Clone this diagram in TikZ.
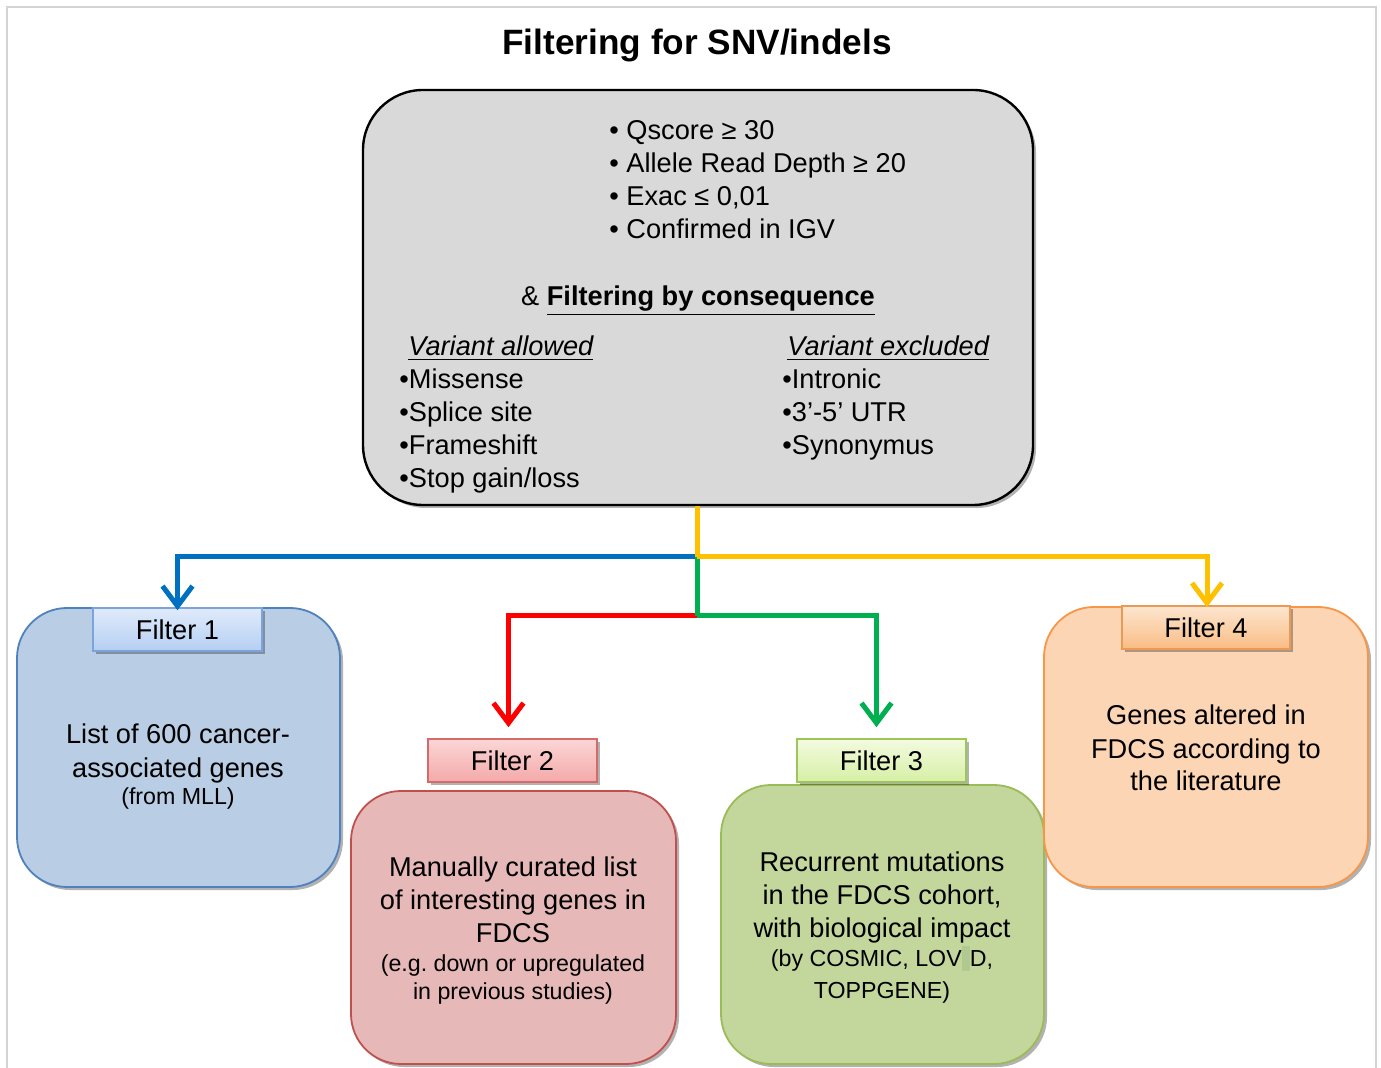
\documentclass[tikz,border=0pt]{standalone}
\usepackage{fontspec}
\setmainfont{Liberation Sans}
\usetikzlibrary{arrows.meta,shadows}
\frenchspacing
\definecolor{framegray}{HTML}{D4D4D4}
\definecolor{maingray}{HTML}{D9D9D9}
\definecolor{bfill}{HTML}{B9CDE5}\definecolor{bline}{HTML}{4F81BD}
\definecolor{rfill}{HTML}{E6B9B8}\definecolor{rline}{HTML}{C0504D}
\definecolor{gfill}{HTML}{C3D69B}\definecolor{gline}{HTML}{9BBB59}
\definecolor{ofill}{HTML}{FCD5B5}\definecolor{oline}{HTML}{F79646}
\definecolor{arrblue}{HTML}{0070C0}\definecolor{arrred}{HTML}{FF0000}
\definecolor{arrgreen}{HTML}{00B050}\definecolor{arryellow}{HTML}{FFC000}
\definecolor{lbtop}{HTML}{E0EBFB}\definecolor{lbbot}{HTML}{B5CFF2}\definecolor{lbline}{HTML}{7DA3DC}
\definecolor{lrtop}{HTML}{FBD6D6}\definecolor{lrbot}{HTML}{F4A9A9}\definecolor{lrline}{HTML}{D46B6B}
\definecolor{lgtop}{HTML}{F3FBE0}\definecolor{lgbot}{HTML}{D6EFA4}\definecolor{lgline}{HTML}{9CC55A}
\definecolor{lotop}{HTML}{FDE6CF}\definecolor{lobot}{HTML}{F9BC85}\definecolor{loline}{HTML}{EB9A55}
\definecolor{artgreen}{HTML}{AFC990}
\newcommand\fnorm{\fontsize{13.6}{16.5}\selectfont}
\newcommand\fsmall{\fontsize{11.6}{14}\selectfont}
\begin{document}
\begin{tikzpicture}[x=0.5pt,y=-0.5pt,
  shad/.style={drop shadow={shadow xshift=1.5pt,shadow yshift=-1.5pt,opacity=0.3,fill=black}},
  mainbox/.style={draw=black,line width=1.2pt,fill=maingray,rounded corners=30pt,shad,inner sep=0},
  fbox/.style={line width=0.9pt,rounded corners=25pt,shad,inner sep=0,minimum width=161.5pt,minimum height=139.5pt},
  flabel/.style={line width=0.8pt,inner sep=0,minimum width=84.5pt,minimum height=21.5pt,font=\fnorm,shad},
  txt/.style={inner sep=0,font=\fnorm,anchor=base},
  txtl/.style={txt,anchor=base west},
  stxt/.style={inner sep=0,font=\fsmall,anchor=base},
  conn/.style={line width=2.5pt,-{Straight Barb[length=10pt,width=15pt]}},
  seg/.style={line width=2.5pt}
]
\useasboundingbox (0,0) rectangle (1381,1068);
\fill[white] (0,0) rectangle (1381,1068);
\draw[framegray,line width=1pt] (7,1070) -- (7,7) -- (1376,7) -- (1376,1070);

% title
\node[inner sep=0,anchor=base,font=\bfseries\fontsize{17.6}{21}\selectfont] (title) at (697,55) {Filtering for SNV/indels};

% main box
\node[mainbox,minimum width=335pt,minimum height=207.5pt] (main) at (698,297.5) {};
\node[txtl] (q1) at (609,140) {• Qscore ≥ 30};
\node[txtl] (q2) at (609,173) {• Allele Read Depth ≥ 20};
\node[txtl] (q3) at (609,206) {• Exac ≤ 0,01};
\node[txtl] (q4) at (609,239) {• Confirmed in IGV};
\node[txt] (cons) at (698,306) {\& \underline{\textbf{Filtering by consequence}}};
\node[txtl] (va) at (408,356) {\textit{\underline{Variant allowed}}};
\node[txtl] (va1) at (399,389) {•Missense};
\node[txtl] (va2) at (399,422) {•Splice site};
\node[txtl] (va3) at (399,455) {•Frameshift};
\node[txtl] (va4) at (399,488) {•Stop gain/loss};
\node[txtl] (ve) at (787,356) {\textit{\underline{Variant excluded}}};
\node[txtl] (ve1) at (782,389) {•Intronic};
\node[txtl] (ve2) at (782,422) {•3’-5’ UTR};
\node[txtl] (ve3) at (782,455) {•Synonymus};

% filter boxes
\node[fbox,draw=bline,fill=bfill] (b1) at (178.5,747.5) {};
\node[fbox,draw=rline,fill=rfill,minimum width=162.5pt,minimum height=136.5pt] (b2) at (513.5,927.5) {};
\node[fbox,draw=gline,fill=gfill] (b3) at (882.5,924.5) {};
\node[fbox,draw=oline,fill=ofill,minimum width=162pt,minimum height=140pt] (b4) at (1206,747) {};

% labels
\node[flabel,draw=lbline,top color=lbtop,bottom color=lbbot] (l1) at (177.5,629.5) {Filter 1};
\node[flabel,draw=lrline,top color=lrtop,bottom color=lrbot] (l2) at (512.5,760.5) {Filter 2};
\node[flabel,draw=lgline,top color=lgtop,bottom color=lgbot] (l3) at (881.5,760.5) {Filter 3};
\node[flabel,draw=loline,top color=lotop,bottom color=lobot,minimum width=84pt] (l4) at (1206,627.5) {Filter 4};

% box texts
\node[txt] (t1a) at (178,744) {List of 600 cancer-};
\node[txt] (t1b) at (178,777) {associated genes};
\node[stxt] (t1c) at (178,805) {(from MLL)};

\node[txt] (t2a) at (513,876) {Manually curated list};
\node[txt] (t2b) at (513,909) {of interesting genes in};
\node[txt] (t2c) at (513,942) {FDCS};
\node[stxt] (t2d) at (513,971) {(e.g. down or upregulated};
\node[stxt] (t2e) at (513,999) {in previous studies)};

\node[txt] (t3a) at (882,871) {Recurrent mutations};
\node[txt] (t3b) at (882,904) {in the FDCS cohort,};
\node[txt] (t3c) at (882,937) {with biological impact};
\node[stxt] (t3d) at (882,966) {(by COSMIC, LOV{\color{artgreen}\rule[-0.2em]{0.35em}{1.05em}}D,};
\node[stxt] (t3e) at (882,998) {TOPPGENE)};

\node[txt] (t4a) at (1206,725) {Genes altered in};
\node[txt] (t4b) at (1206,758) {FDCS according to};
\node[txt] (t4c) at (1206,791) {the literature};

% connectors
\coordinate (j1) at (697,557);
\coordinate (j2) at (697,616);
\draw[conn,arrblue] (j1) -| ([yshift=-1.5pt]l1.north);
\draw[conn,arrred,shorten >=5.5pt] (j2) -| ([xshift=-2pt]l2.north);
\draw[seg,arrgreen] (j1) -- (j2);
\draw[conn,arrgreen,shorten >=5.5pt] (j2) -| ([xshift=-2.5pt]l3.north);
\draw[seg,arryellow] (main.south -| j1) -- (j1);
\draw[conn,arryellow] (j1) -| ([xshift=0.5pt,yshift=-1pt]l4.north);
\end{tikzpicture}
\end{document}
